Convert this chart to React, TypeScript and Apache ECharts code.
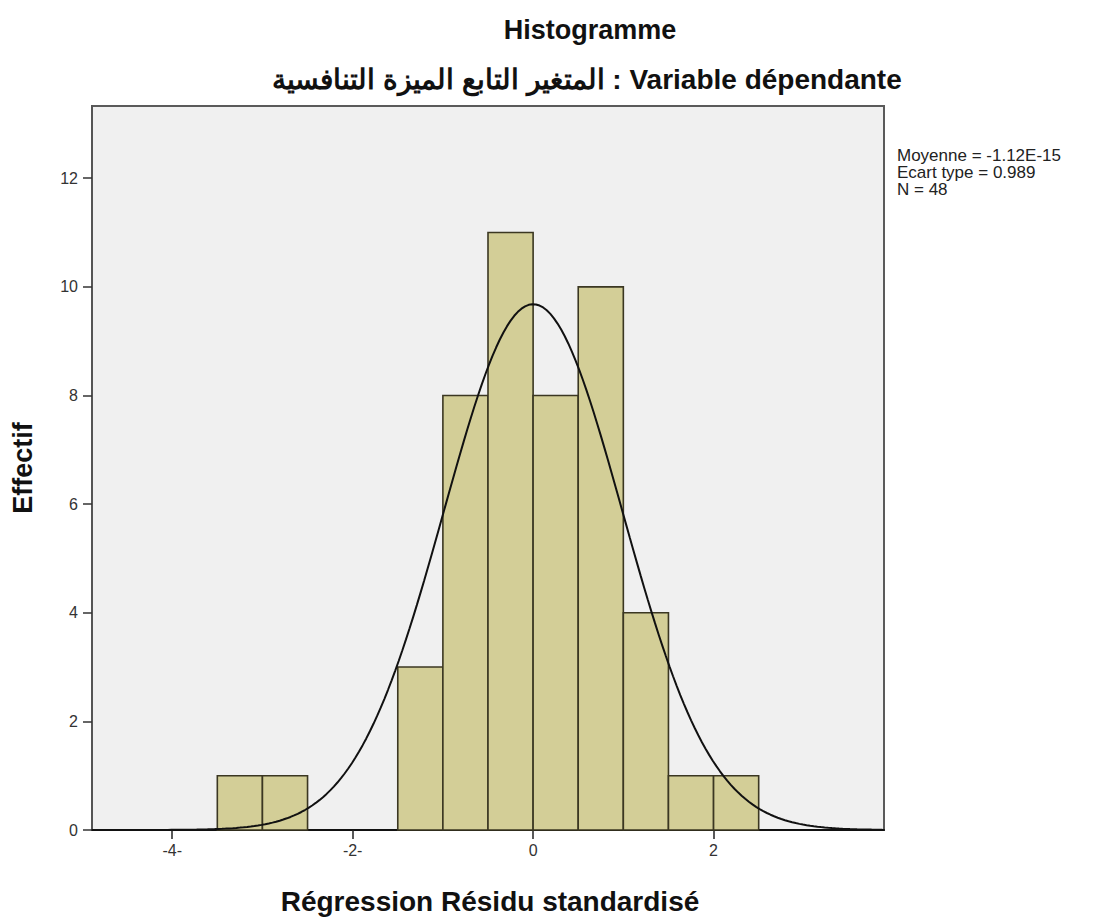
import React, { useEffect, useRef } from "react";
import * as echarts from "echarts";

const binStarts = [-3.5, -3.0, -1.5, -1.0, -0.5, 0.0, 0.5, 1.0, 1.5, 2.0];
const binCounts = [1, 1, 3, 8, 11, 8, 10, 4, 1, 1];
const binWidth = 0.5;
const xTicks = [-4, -2, 0, 2];
const xTickLabels = ["-4-", "-2-", "0", "2"];
const yTicks = [0, 2, 4, 6, 8, 10, 12];
const statMean = -1.12e-15;
const statSd = 0.989;
const statN = 48;
const statLines = ["Moyenne = -1.12E-15", "Ecart type = 0.989", "N = 48"];

const X_MIN = -4.889;
const X_MAX = 3.889;
const Y_MAX = 13.33;

export default function App() {
  const ref = useRef<HTMLDivElement>(null);
  useEffect(() => {
    if (!ref.current) return;
    const chart = echarts.init(ref.current, undefined, { renderer: "svg" });
    const bins = binStarts.map((s, i) => [s, s + binWidth, binCounts[i]]);
    const curve: number[][] = [];
    for (let x = X_MIN; x <= X_MAX + 1e-9; x += 0.04) {
      const z = (x - statMean) / statSd;
      const y = (statN * binWidth * Math.exp(-0.5 * z * z)) / (statSd * Math.sqrt(2 * Math.PI));
      curve.push([x, y]);
    }
    const font = "Arial, 'Liberation Sans', sans-serif";
    chart.setOption({
      animation: false,
      backgroundColor: "#ffffff",
      textStyle: { fontFamily: font },
      grid: {
        left: 92,
        top: 106,
        width: 792,
        height: 724,
        show: true,
        backgroundColor: "#F0F0F0",
        borderColor: "#5a5a5a",
        borderWidth: 2,
      },
      xAxis: {
        type: "value",
        min: X_MIN,
        max: X_MAX,
        splitLine: { show: false },
        axisLine: { show: true, onZero: false, lineStyle: { color: "#111", width: 2 } },
        axisTick: { show: true, length: 9, customValues: xTicks, lineStyle: { color: "#222", width: 1.5 } },
        axisLabel: {
          customValues: xTicks,
          color: "#333",
          fontSize: 16,
          margin: 12,
          fontFamily: font,
          formatter: (v: number) => {
            const i = xTicks.findIndex((t) => Math.abs(t - v) < 1e-6);
            return i >= 0 ? xTickLabels[i] : "";
          },
        },
      },
      yAxis: {
        type: "value",
        min: 0,
        max: Y_MAX,
        splitLine: { show: false },
        axisLine: { show: true, onZero: false, lineStyle: { color: "#555", width: 2 } },
        axisTick: { show: true, length: 9, customValues: yTicks, lineStyle: { color: "#333", width: 1.5 } },
        axisLabel: {
          customValues: yTicks,
          color: "#333",
          fontSize: 16,
          margin: 14,
          fontFamily: font,
        },
      },
      graphic: [
        {
          type: "text",
          x: 590,
          y: 30,
          style: { text: "Histogramme", font: `bold 27px ${font}`, fill: "#111", align: "center", verticalAlign: "middle" },
        },
        {
          type: "text",
          x: 587,
          y: 79,
          style: {
            text: "المتغير التابع الميزة التنافسية : Variable dépendante",
            font: `bold 28px ${font}`,
            fill: "#111",
            align: "center",
            verticalAlign: "middle",
          },
        },
        ...statLines.map((t, i) => ({
          type: "text",
          x: 897,
          y: 155 + i * 17,
          style: { text: t, font: `17px ${font}`, fill: "#222", align: "left", verticalAlign: "middle" },
        })),
        {
          type: "text",
          x: 23,
          y: 468,
          rotation: Math.PI / 2,
          style: { text: "Effectif", font: `bold 27px ${font}`, fill: "#111", align: "center", verticalAlign: "middle" },
        },
        {
          type: "text",
          x: 490,
          y: 901,
          style: {
            text: "Régression Résidu standardisé",
            font: `bold 28px ${font}`,
            fill: "#111",
            align: "center",
            verticalAlign: "middle",
          },
        },
      ],
      series: [
        {
          type: "custom",
          data: bins,
          encode: { x: [0, 1], y: 2 },
          renderItem: (params: any, api: any) => {
            const p0 = api.coord([api.value(0), api.value(2)]);
            const p1 = api.coord([api.value(1), 0]);
            return {
              type: "rect",
              shape: { x: p0[0], y: p0[1], width: p1[0] - p0[0], height: p1[1] - p0[1] },
              style: { fill: "#D3CE97", stroke: "#3b3722", lineWidth: 1.6 },
            };
          },
          z: 2,
        },
        {
          type: "line",
          data: curve,
          showSymbol: false,
          symbol: "none",
          lineStyle: { color: "#111", width: 2 },
          z: 3,
        },
      ],
    });
    return () => chart.dispose();
  }, []);
  return <div ref={ref} style={{ position: "fixed", left: 0, top: 0, width: 1101, height: 922 }} />;
}
